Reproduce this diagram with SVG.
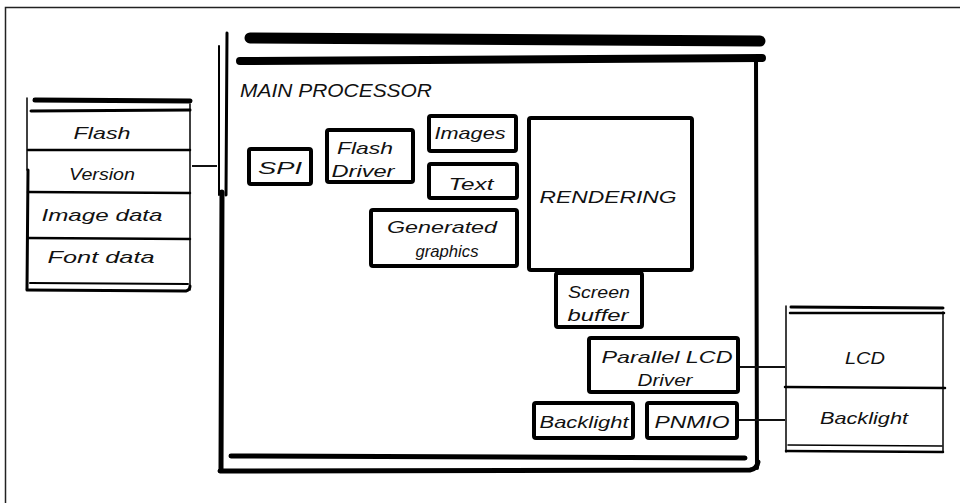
<svg xmlns="http://www.w3.org/2000/svg" width="960" height="503" viewBox="0 0 960 503">
<style>
.t{font-family:"Liberation Sans","DejaVu Sans",sans-serif;font-style:italic;font-size:17px;fill:#111;text-anchor:middle}
.tl{font-family:"Liberation Sans","DejaVu Sans",sans-serif;font-style:italic;font-size:18px;fill:#111}
.box{fill:#fff;stroke:#000;stroke-width:4;stroke-linejoin:round}
.ln{stroke:#000;fill:none;stroke-linecap:round}
.c{stroke:#111;stroke-width:2;fill:none}
</style>
<rect width="960" height="503" fill="#fff"/>
<path d="M5.5,503 V7.5 H960" fill="none" stroke="#222" stroke-width="1.5"/>

<g id="main-processor">
  <rect x="222" y="58" width="534" height="412" fill="#fff"/>
  <line class="ln" x1="250" y1="38" x2="760" y2="41" stroke-width="11"/>
  <line class="ln" x1="757" y1="39" x2="760" y2="42" stroke="#fff" stroke-width="3"/>
  <line class="ln" x1="240" y1="61" x2="762" y2="58" stroke-width="8"/>
  <line class="ln" x1="219" y1="46" x2="219" y2="195" stroke-width="2"/>
  <line class="ln" x1="227" y1="33" x2="226" y2="195" stroke-width="3"/>
  <line class="ln" x1="222" y1="192" x2="221" y2="470" stroke-width="5"/>
  <line class="ln" x1="756" y1="58" x2="757" y2="468" stroke-width="4"/>
  <line class="ln" x1="231" y1="456" x2="745" y2="458" stroke-width="5"/>
  <path class="ln" d="M220,471 L750,470 Q757,469 758,462" stroke-width="5"/>
  <text class="tl" x="240" y="97" textLength="192" lengthAdjust="spacingAndGlyphs">MAIN PROCESSOR</text>
</g>

<g id="flash-panel">
  <rect x="28" y="100" width="162" height="189" fill="#fff"/>
  <line class="ln" x1="35" y1="100" x2="190" y2="101" stroke-width="5"/>
  <line class="ln" x1="31" y1="111" x2="190" y2="110" stroke-width="3"/>
  <line class="ln" x1="27" y1="98" x2="27" y2="170" stroke-width="1.5"/>
  <line class="ln" x1="28" y1="170" x2="27" y2="289" stroke-width="3"/>
  <line class="ln" x1="190" y1="104" x2="190" y2="290" stroke-width="1.5"/>
  <line class="ln" x1="28" y1="150" x2="190" y2="150" stroke-width="2.5"/>
  <line class="ln" x1="28" y1="192" x2="190" y2="193" stroke-width="2.5"/>
  <line class="ln" x1="28" y1="238" x2="190" y2="239" stroke-width="2.5"/>
  <line class="ln" x1="30" y1="283" x2="188" y2="284" stroke-width="2"/>
  <path class="ln" d="M27,290 L186,291 Q190,290 190,286" stroke-width="3"/>
  <text class="t" x="102" y="139" textLength="57" lengthAdjust="spacingAndGlyphs">Flash</text>
  <text class="t" x="102" y="180" textLength="66" lengthAdjust="spacingAndGlyphs">Version</text>
  <text class="t" x="102" y="221" textLength="121" lengthAdjust="spacingAndGlyphs">Image data</text>
  <text class="t" x="101" y="263" textLength="107" lengthAdjust="spacingAndGlyphs">Font data</text>
</g>

<g id="spi">
  <rect class="box" x="249" y="149" width="62" height="35" rx="2"/>
  <text class="t" x="280" y="174" textLength="44" lengthAdjust="spacingAndGlyphs">SPI</text>
</g>
<g id="flash-driver">
  <rect class="box" x="327" y="130" width="86" height="52" rx="2"/>
  <text class="t" x="365" y="154" textLength="56" lengthAdjust="spacingAndGlyphs">Flash</text>
  <text class="t" x="363" y="177" textLength="63" lengthAdjust="spacingAndGlyphs">Driver</text>
</g>
<g id="images">
  <rect class="box" x="429" y="116" width="87" height="35" rx="2"/>
  <text class="t" x="470" y="139" textLength="71" lengthAdjust="spacingAndGlyphs">Images</text>
</g>
<g id="text">
  <rect class="box" x="429" y="164" width="88" height="34" rx="2"/>
  <text class="t" x="471" y="190" textLength="45" lengthAdjust="spacingAndGlyphs">Text</text>
</g>
<g id="generated-graphics">
  <rect class="box" x="371" y="210" width="146" height="56" rx="2"/>
  <text class="t" x="442" y="233" textLength="110" lengthAdjust="spacingAndGlyphs">Generated</text>
  <text class="t" x="447" y="257" textLength="63" lengthAdjust="spacingAndGlyphs">graphics</text>
</g>
<g id="rendering">
  <rect class="box" x="529" y="118" width="163" height="152" rx="2" stroke-width="5"/>
  <text class="t" x="608" y="203" textLength="137" lengthAdjust="spacingAndGlyphs">RENDERING</text>
</g>
<g id="screen-buffer">
  <rect class="box" x="556" y="273" width="86" height="54" rx="2"/>
  <text class="t" x="599" y="298" textLength="62" lengthAdjust="spacingAndGlyphs">Screen</text>
  <text class="t" x="598" y="321" textLength="61" lengthAdjust="spacingAndGlyphs">buffer</text>
</g>
<g id="parallel-lcd-driver">
  <rect class="box" x="589" y="338" width="149" height="54" rx="2"/>
  <text class="t" x="667" y="363" textLength="131" lengthAdjust="spacingAndGlyphs">Parallel LCD</text>
  <text class="t" x="665" y="386" textLength="55" lengthAdjust="spacingAndGlyphs">Driver</text>
</g>
<g id="backlight-inner">
  <rect class="box" x="534" y="403" width="99" height="35" rx="2"/>
  <text class="t" x="584" y="428" textLength="89" lengthAdjust="spacingAndGlyphs">Backlight</text>
</g>
<g id="pnmio">
  <rect class="box" x="647" y="403" width="90" height="35" rx="2"/>
  <text class="t" x="692" y="428" textLength="75" lengthAdjust="spacingAndGlyphs">PNMIO</text>
</g>

<g id="lcd-panel">
  <rect x="786" y="310" width="157" height="140" fill="#fff"/>
  <line class="ln" x1="791" y1="307" x2="943" y2="308" stroke-width="3"/>
  <line class="ln" x1="790" y1="313" x2="944" y2="313" stroke-width="2.5"/>
  <line class="ln" x1="786" y1="306" x2="786" y2="452" stroke-width="1.5"/>
  <line class="ln" x1="943" y1="312" x2="943" y2="451" stroke-width="1.5"/>
  <line class="ln" x1="785" y1="387" x2="945" y2="388" stroke-width="2.5"/>
  <line class="ln" x1="788" y1="445" x2="942" y2="446" stroke-width="1.5"/>
  <line class="ln" x1="786" y1="451" x2="943" y2="452" stroke-width="2.5"/>
  <text class="t" x="865" y="364" textLength="40" lengthAdjust="spacingAndGlyphs">LCD</text>
  <text class="t" x="864" y="424" textLength="88" lengthAdjust="spacingAndGlyphs">Backlight</text>
</g>

<g id="connectors">
  <line class="c" x1="192" y1="166" x2="217" y2="166"/>
  <line class="c" x1="740" y1="367" x2="785" y2="367"/>
  <line class="c" x1="739" y1="420" x2="785" y2="420"/>
</g>
</svg>
